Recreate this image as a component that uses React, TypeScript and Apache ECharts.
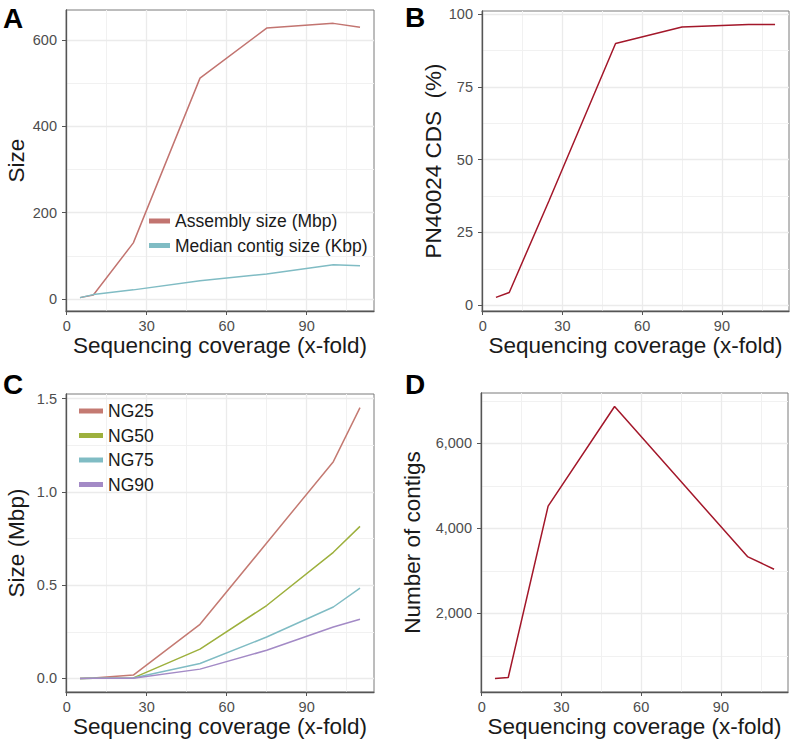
import React, { useEffect, useRef } from 'react';
import * as echarts from 'echarts';

// ---------- data ----------
const coverage = [5, 10, 25, 50, 75, 100, 110];
const assemblySizeMbp = [3, 9, 130, 512, 628, 639, 630];
const medianContigKbp = [3, 10, 21, 42, 58, 79, 77];
const cdsPct = [2.7, 4.4, 36, 89.9, 95.6, 96.4, 96.4];
const ng25 = [0, 0.003, 0.018, 0.29, 0.726, 1.162, 1.452];
const ng50 = [0, 0.001, 0.003, 0.157, 0.391, 0.676, 0.815];
const ng75 = [0, 0.001, 0.002, 0.08, 0.222, 0.383, 0.484];
const ng90 = [0, 0.0005, 0.001, 0.05, 0.151, 0.276, 0.317];
const contigCount = [469, 492, 4523, 6867, 5101, 3336, 3039];

// ---------- ticks ----------
const xTicks = [0, 30, 60, 90];
const xMinor = [15, 45, 75, 105];
const aTicks = [0, 200, 400, 600];
const aMinor = [100, 300, 500];
const bTicks = [0, 25, 50, 75, 100];
const bMinor = [12.5, 37.5, 62.5, 87.5];
const cTicks = [0, 0.5, 1.0, 1.5];
const cMinor = [0.25, 0.75, 1.25];
const dTicks = [2000, 4000, 6000];
const dMinor = [1000, 3000, 5000, 7000];

const FONT = 'Liberation Sans, Arial, Helvetica, sans-serif';
const AXIS_COL = '#555555';
const TICK_TXT = '#4d4d4d';
const TITLE_COL = '#1a1a1a';

const grids = [
  { left: 66, top: 10, width: 308, height: 301 },
  { left: 482, top: 11, width: 307, height: 300 },
  { left: 66, top: 394, width: 308, height: 298 },
  { left: 481, top: 393, width: 307, height: 299 },
];

const yCfg = [
  { min: -28, max: 670, ticks: aTicks, minor: aMinor, name: 'Size', gap: 38, fmt: (v: number) => String(v) },
  { min: -1.98, max: 101.08, ticks: bTicks, minor: bMinor, name: 'PN40024 CDS  (%)', gap: 34, fmt: (v: number) => String(v) },
  { min: -0.0726, max: 1.5246, ticks: cTicks, minor: cMinor, name: 'Size (Mbp)', gap: 38, fmt: (v: number) => v.toFixed(1) },
  { min: 150, max: 7185, ticks: dTicks, minor: dMinor, name: 'Number of contigs', gap: 57, fmt: (v: number) => v.toLocaleString('en-US') },
];

function pairs(ys: number[]) {
  return coverage.map((x, i) => [x, ys[i]]);
}

function gridLineSeries(i: number) {
  const major = { color: '#ebebeb', width: 1.3, type: 'solid' };
  const minor = { color: '#f1f1f1', width: 1, type: 'solid' };
  const c = yCfg[i];
  return {
    type: 'line',
    xAxisIndex: i,
    yAxisIndex: i,
    data: [],
    z: 0,
    silent: true,
    markLine: {
      silent: true,
      animation: false,
      z: 0,
      symbol: ['none', 'none'],
      label: { show: false },
      emphasis: { disabled: true },
      data: [
        ...xMinor.map((v) => ({ xAxis: v, lineStyle: minor })),
        ...c.minor.map((v) => ({ yAxis: v, lineStyle: minor })),
        ...xTicks.map((v) => ({ xAxis: v, lineStyle: major })),
        ...c.ticks.map((v) => ({ yAxis: v, lineStyle: major })),
      ],
    },
  };
}

function lineSeries(name: string, i: number, ys: number[], color: string) {
  return {
    name,
    type: 'line',
    xAxisIndex: i,
    yAxisIndex: i,
    data: pairs(ys),
    showSymbol: false,
    symbol: 'none',
    z: 6,
    lineStyle: { color, width: 1.5 },
    itemStyle: { color },
  };
}

export default function App() {
  const ref = useRef<HTMLDivElement>(null);
  useEffect(() => {
    const chart = echarts.init(ref.current!, null, { renderer: 'svg' });
    const legendCommon = {
      orient: 'vertical',
      icon: 'rect',
      itemHeight: 5,
      itemGap: 6.5,
      padding: 0,
      textStyle: { fontSize: 17.5, color: TITLE_COL, fontFamily: FONT },
      selectedMode: false,
    };
    const letter = (text: string, left: number, top: number) => ({
      type: 'text',
      left,
      top,
      style: { text, fontSize: 28, fontWeight: 'bold', fill: '#000', fontFamily: FONT },
    });
    const option: any = {
      animation: false,
      backgroundColor: '#ffffff',
      grid: grids.map((g) => ({ ...g, show: true, borderColor: '#7a7a7a', borderWidth: 1, backgroundColor: 'transparent' })),
      xAxis: grids.map((_, i) => ({
        type: 'value',
        gridIndex: i,
        min: -0.25,
        max: 115.25,
        splitLine: { show: false },
        axisLine: { show: true, onZero: false, lineStyle: { color: AXIS_COL, width: 1.3 } },
        axisTick: { show: true, customValues: xTicks, length: 4, lineStyle: { color: AXIS_COL, width: 1 } },
        axisLabel: { customValues: xTicks, color: TICK_TXT, fontSize: 14.5, margin: 7, fontFamily: FONT },
        name: 'Sequencing coverage (x-fold)',
        nameLocation: 'middle',
        nameGap: 23,
        nameTextStyle: { fontSize: 22.5, color: TITLE_COL, fontFamily: FONT },
      })),
      yAxis: yCfg.map((c, i) => ({
        type: 'value',
        gridIndex: i,
        min: c.min,
        max: c.max,
        splitLine: { show: false },
        axisLine: { show: true, onZero: false, lineStyle: { color: AXIS_COL, width: 1.3 } },
        axisTick: { show: true, customValues: c.ticks, length: 4, lineStyle: { color: AXIS_COL, width: 1 } },
        axisLabel: { customValues: c.ticks, color: TICK_TXT, fontSize: 14.5, margin: 9, fontFamily: FONT, formatter: c.fmt },
        name: c.name,
        nameLocation: 'middle',
        nameGap: c.gap,
        nameTextStyle: { fontSize: 22.5, color: TITLE_COL, fontFamily: FONT },
      })),
      legend: [
        { ...legendCommon, data: ['Assembly size (Mbp)', 'Median contig size (Kbp)'], left: 149, top: 212, itemWidth: 21 },
        { ...legendCommon, data: ['NG25', 'NG50', 'NG75', 'NG90'], left: 79, top: 402, itemWidth: 24 },
      ],
      series: [
        gridLineSeries(0),
        gridLineSeries(1),
        gridLineSeries(2),
        gridLineSeries(3),
        lineSeries('Assembly size (Mbp)', 0, assemblySizeMbp, '#c27470'),
        lineSeries('Median contig size (Kbp)', 0, medianContigKbp, '#80bcc4'),
        lineSeries('PN40024 CDS', 1, cdsPct, '#a3172a'),
        lineSeries('NG25', 2, ng25, '#c47a72'),
        lineSeries('NG50', 2, ng50, '#9db03d'),
        lineSeries('NG75', 2, ng75, '#80bcc4'),
        lineSeries('NG90', 2, ng90, '#a38ac6'),
        lineSeries('Number of contigs', 3, contigCount, '#a3172a'),
      ],
      graphic: [
        letter('A', 3, 4),
        letter('B', 405, 3),
        letter('C', 3, 370),
        letter('D', 405, 370),
      ],
    };
    chart.setOption(option);
    return () => chart.dispose();
  }, []);
  return (
    <div
      ref={ref}
      style={{ position: 'absolute', left: 0, top: 0, width: 792, height: 744, background: '#fff' }}
    />
  );
}
